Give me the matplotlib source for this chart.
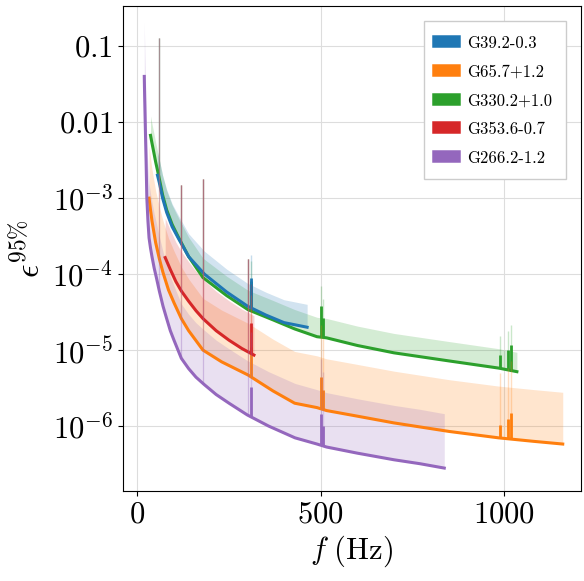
import numpy as np
import matplotlib
matplotlib.use('Agg')
import matplotlib.pyplot as plt

plt.rcParams['font.family'] = 'serif'
plt.rcParams['font.serif'] = ['cmr10', 'DejaVu Serif']
plt.rcParams['mathtext.fontset'] = 'cm'
plt.rcParams['axes.formatter.use_mathtext'] = True

# ===== DATA =====
names = ['G39.2-0.3', 'G65.7+1.2', 'G330.2+1.0', 'G353.6-0.7', 'G266.2-1.2']
colors = ['#1f77b4', '#ff7f0e', '#2ca02c', '#d62728', '#9467bd']

f_blue = [55, 60, 69, 80, 95, 113, 140, 183, 244, 300, 350, 400, 463]
e_blue = [2e-3, 1.6e-3, 1e-3, 6.5e-4, 4.2e-4, 2.9e-4, 1.7e-4, 1e-4, 5.8e-5, 3.8e-5, 2.9e-5, 2.3e-5, 2e-5]
f_orange = [32, 36, 40, 45, 50, 60, 70, 85, 100, 120, 140, 179, 230, 302, 370, 429, 490,
            516, 600, 700, 850, 985, 1080, 1160]
e_orange = [1e-3, 7e-4, 5e-4, 3.6e-4, 2.6e-4, 1.6e-4, 1.05e-4, 6.2e-5, 4.2e-5, 2.6e-5, 1.8e-5,
            1e-5, 7e-6, 4.7e-6, 2.9e-6, 2e-6, 1.75e-6, 1.6e-6, 1.35e-6, 1.1e-6, 8.5e-7, 7e-7,
            6.3e-7, 5.8e-7]
f_green = [36, 40, 45, 50, 60, 69, 80, 95, 113, 140, 179, 244, 302, 370, 429, 490,
           516, 600, 700, 850, 985, 1035]
e_green = [6.7e-3, 5.3e-3, 4e-3, 3e-3, 1.8e-3, 1.1e-3, 7e-4, 4.5e-4, 3e-4, 1.7e-4, 9e-5,
           5.2e-5, 3.4e-5, 2.5e-5, 1.9e-5, 1.5e-5, 1.45e-5, 1.15e-5, 9.2e-6, 7.2e-6, 5.8e-6, 5.2e-6]
f_red = [76, 90, 105, 120, 140, 160, 179, 215, 250, 285, 318]
e_red = [1.65e-4, 1.15e-4, 8e-5, 6e-5, 4.4e-5, 3.3e-5, 2.6e-5, 1.8e-5, 1.35e-5, 1.05e-5, 8.6e-6]
f_purple = [19, 20, 22, 24, 26, 29, 32, 36, 40, 46, 52, 60, 70, 80, 90, 100, 120, 140, 160,
            183, 215, 250, 300, 358, 430, 490, 516, 600, 700, 770, 837]
e_purple = [4e-2, 2.2e-2, 8e-3, 3e-3, 1e-3, 5e-4, 3e-4, 2.2e-4, 1.7e-4, 1.2e-4, 9e-5, 6e-5,
            3.8e-5, 2.6e-5, 1.8e-5, 1.35e-5, 7.8e-6, 5.7e-6, 4.4e-6, 3.5e-6, 2.6e-6, 2e-6, 1.4e-6,
            1e-6, 7e-7, 5.8e-7, 5.3e-7, 4.4e-7, 3.6e-7, 3.2e-7, 2.8e-7]

band_ratio = [2.0, 4.8, 1.8, 3.3, 5.2]

# narrow lines shared by all detectors: frequency and absolute top of the line
line_f = [60, 120, 180, 302]
line_top = [0.13, 1.5e-3, 1.8e-3, 1.6e-4]
# small features relative to each curve
bump_f = [310, 500, 505, 990, 1010, 1020]
bump_factor = [2.5, 2.6, 1.8, 1.5, 1.8, 2.2]

curves = [(f_blue, e_blue), (f_orange, e_orange), (f_green, e_green),
          (f_red, e_red), (f_purple, e_purple)]

fig = plt.figure(figsize=(5.84, 5.81), dpi=100)
ax = fig.add_axes([0.21, 0.155, 0.785, 0.835])

order = [2, 0, 1, 3, 4]
for i in order:
    f, e = np.array(curves[i][0], float), np.array(curves[i][1], float)
    c = colors[i]
    ax.fill_between(f, e, e * band_ratio[i], color=c, alpha=0.2, lw=0)
    ax.plot(f, e, color=c, lw=2.2, label=names[i])
    for sf, top in zip(line_f, line_top):
        if f[0] < sf < f[-1]:
            base = 10 ** np.interp(sf, f, np.log10(e))
            ax.vlines(sf, base, top, color=c, lw=0.9, alpha=0.35)
    for sf, k in zip(bump_f, bump_factor):
        if f[0] < sf < f[-1]:
            base = 10 ** np.interp(sf, f, np.log10(e))
            ax.vlines(sf, base, base * k, color=c, lw=2)
            ax.vlines(sf, base, base * k * band_ratio[i], color=c, lw=1, alpha=0.25)

handles, labels = ax.get_legend_handles_labels()
idx = [labels.index(n) for n in names]
leg = ax.legend([handles[j] for j in idx], names, loc='upper right', fontsize=12,
                handlelength=1.0, handleheight=1.0, fancybox=False, framealpha=1,
                bbox_to_anchor=(0.985, 0.985), borderpad=0.8, labelspacing=0.75)
for h, c in zip(leg.legend_handles, colors):
    h.set_linewidth(9)

ax.set_yscale('log')
ax.set_ylim(1.4e-7, 0.34)
ax.set_xlim(-40, 1210)
ax.set_xticks([0, 500, 1000])
ax.set_xticklabels(['$0$', '$500$', '$1000$'])
ax.set_yticks([1e-6, 1e-5, 1e-4, 1e-3, 1e-2, 1e-1])
ax.set_yticklabels([r'$10^{-6}$', r'$10^{-5}$', r'$10^{-4}$', r'$10^{-3}$', '$0.01$', '$0.1$'])
ax.minorticks_off()
ax.tick_params(labelsize=22)
ax.grid(True, color='#dddddd', lw=0.8)
ax.set_axisbelow(True)
ax.set_xlabel(r'$f\ (\mathrm{Hz})$', fontsize=22)
ax.set_ylabel(r'$\epsilon^{95\%}$', fontsize=24)

plt.savefig('out.png', dpi=100)
